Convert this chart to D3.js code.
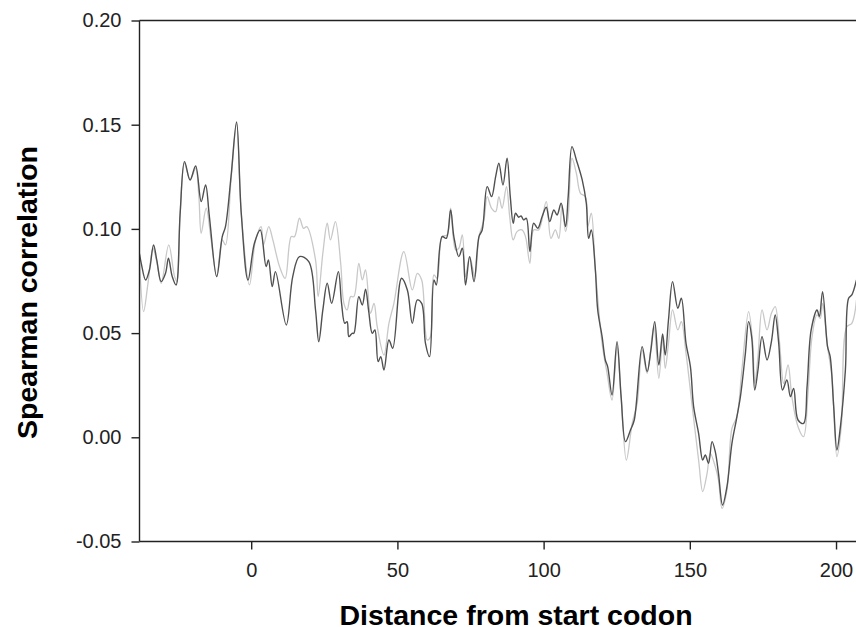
<!DOCTYPE html>
<html>
<head>
<meta charset="utf-8">
<script src="https://cdn.jsdelivr.net/npm/d3@7"></script>
<style>
  html, body { margin: 0; padding: 0; background: #fff; }
  svg { display: block; }
  text { font-family: "Liberation Sans", Arial, sans-serif; }
</style>
</head>
<body>
<svg id="chart" width="856" height="627"></svg>
<script>
// ---- data ----
const xTicks = [0, 50, 100, 150, 200];
const yTicks = [-0.05, 0.00, 0.05, 0.10, 0.15, 0.20];
const xTitle = "Distance from start codon";
const yTitle = "Spearman correlation";

const darkPos = [-38.2,-37.6,-36.1,-34.8,-33.4,-32.3,-30.8,-29.3,-28.3,-27.0,-25.7,-24.3,-22.8,-20.9,-19.0,-17.1,-15.6,-14.3,-11.8,-9.9,-8.8,-6.9,-5.0,-3.4,-1.1,1.1,3.1,5.1,5.9,7.2,8.3,12.0,14.2,16.5,19.7,22.0,23.1,24.5,26.0,27.5,29.8,30.9,32.0,32.8,33.4,34.5,35.1,36.8,38.0,39.1,40.2,41.4,42.3,43.4,44.3,45.4,47.1,48.4,51.4,53.4,55.1,56.8,58.3,59.6,61.0,62.5,63.3,65.3,66.7,68.2,69.3,71.0,72.2,73.3,74.7,76.2,77.9,79.0,80.7,82.2,83.6,84.7,86.1,87.5,88.6,89.6,90.4,91.5,92.3,93.2,94.1,95.3,96.6,98.0,99.5,100.9,102.1,103.5,104.6,106.0,107.5,108.4,109.7,111.2,113.2,114.6,115.4,116.3,117.7,118.5,120.0,121.1,121.9,123.4,125.1,126.5,128.0,129.7,131.0,133.7,135.4,136.7,138.0,139.4,140.7,141.6,142.7,144.1,145.9,147.1,148.7,150.2,151.3,153.0,154.4,155.3,156.4,157.6,158.7,159.8,161.2,162.7,164.4,165.9,167.3,169.0,170.1,171.2,172.2,173.3,174.7,176.4,177.9,179.2,180.4,181.7,183.2,184.4,185.5,187.0,188.9,190.1,191.5,193.5,194.3,195.4,197.1,198.0,199.2,200.3,201.5,203.2,204.3,205.4,207.0];
const darkVal = [0.088,0.0835,0.0755,0.0803,0.0923,0.0851,0.0747,0.0787,0.0859,0.0771,0.0731,0.1075,0.1323,0.1235,0.1302,0.1131,0.1211,0.1059,0.0771,0.0963,0.1011,0.1251,0.1513,0.1075,0.0755,0.0931,0.0995,0.0819,0.0851,0.0723,0.0795,0.0539,0.0771,0.0867,0.0843,0.0611,0.0459,0.0611,0.0739,0.0643,0.0795,0.0643,0.0547,0.0555,0.0483,0.0499,0.0499,0.0675,0.0635,0.0711,0.0603,0.0499,0.0515,0.0363,0.0387,0.0323,0.0467,0.0427,0.0763,0.0707,0.0547,0.0659,0.0643,0.0451,0.0387,0.0755,0.0731,0.0963,0.0955,0.1091,0.0963,0.0867,0.0907,0.0731,0.0867,0.0747,0.0963,0.0995,0.1203,0.1155,0.1251,0.1315,0.1211,0.1339,0.1155,0.1027,0.1075,0.1056,0.1062,0.1043,0.1051,0.0891,0.1027,0.1003,0.1059,0.1104,0.1035,0.1091,0.1067,0.1123,0.1011,0.1155,0.1395,0.1331,0.1235,0.1123,0.0955,0.0995,0.0803,0.0611,0.0483,0.0371,0.0339,0.0203,0.0459,0.0195,-0.0021,0.0035,0.0083,0.0435,0.0315,0.0419,0.0555,0.0347,0.0496,0.0395,0.0563,0.0747,0.0619,0.0667,0.0451,0.0339,0.0147,0.0019,-0.0109,-0.0085,-0.0125,-0.0021,-0.0069,-0.0173,-0.0325,-0.0237,-0.0029,0.0083,0.0195,0.0403,0.0555,0.0475,0.0227,0.0323,0.0483,0.0371,0.0459,0.0587,0.0451,0.0227,0.0275,0.0195,0.0235,0.0083,0.0067,0.0243,0.0515,0.0611,0.0579,0.0699,0.0435,0.0387,0.0147,-0.0061,0.0051,0.0323,0.0667,0.0683,0.0755];

const lightPos = [-38.2,-36.8,-35.3,-33.6,-32.3,-30.8,-28.2,-26.2,-25.4,-24.3,-22.8,-20.9,-19.0,-17.9,-17.1,-15.4,-13.7,-11.8,-9.9,-8.8,-6.9,-5.0,-3.4,-0.6,1.5,3.4,4.2,6.0,7.4,9.7,11.6,13.7,14.8,16.5,17.9,19.0,22.0,22.9,24.5,26.0,27.1,28.8,30.6,31.7,32.8,34.0,35.1,36.8,38.0,39.1,40.8,42.0,43.1,45.4,47.1,48.8,52.2,55.1,56.8,58.3,60.2,61.3,62.5,63.6,65.3,67.0,68.2,69.9,71.0,72.2,73.3,74.7,76.5,77.9,79.6,80.7,82.2,83.6,84.7,85.8,87.3,88.4,89.6,90.9,92.6,93.8,95.3,96.6,98.3,100.9,102.5,104.0,105.2,106.3,107.5,108.4,109.7,111.2,112.6,114.3,115.1,116.3,117.7,120.0,121.7,123.4,125.1,126.5,128.3,130.3,132.0,133.7,135.4,137.7,139.4,140.7,141.6,142.7,144.1,145.9,147.1,148.7,150.7,153.0,154.4,155.9,157.0,158.7,159.8,161.0,162.7,164.4,166.1,167.8,170.1,171.5,172.2,173.3,174.7,176.4,177.9,179.2,180.6,182.1,183.6,184.9,187.0,188.9,190.4,191.8,193.5,194.6,195.4,197.1,198.6,200.3,201.8,203.7,205.4,207.0];
const lightVal = [0.085,0.0603,0.0739,0.0907,0.0843,0.0739,0.0923,0.0771,0.0747,0.1075,0.1315,0.1235,0.129,0.1155,0.0979,0.1099,0.0947,0.0771,0.0947,0.0923,0.1235,0.1505,0.1075,0.0731,0.0947,0.1011,0.0923,0.1011,0.0947,0.0819,0.0763,0.0963,0.0963,0.1051,0.1003,0.1011,0.0851,0.0675,0.0883,0.1027,0.0947,0.1035,0.0835,0.0643,0.0611,0.0675,0.0675,0.0835,0.0755,0.0803,0.0595,0.0643,0.0531,0.0395,0.0547,0.0643,0.0891,0.0707,0.0787,0.0755,0.0467,0.0483,0.0779,0.0763,0.0963,0.0971,0.1099,0.0899,0.0907,0.0971,0.0771,0.0867,0.0771,0.0963,0.1043,0.1155,0.1099,0.1083,0.1155,0.1099,0.1203,0.1059,0.0947,0.0987,0.0995,0.0963,0.0835,0.0995,0.0995,0.1131,0.0955,0.0995,0.0955,0.1115,0.0987,0.1059,0.1339,0.1267,0.1171,0.1155,0.1011,0.1075,0.0803,0.0451,0.0307,0.0179,0.0435,0.0195,-0.0109,0.0067,0.0163,0.0419,0.0307,0.0531,0.0283,0.0475,0.0331,0.0451,0.0611,0.0515,0.0555,0.0403,0.0163,-0.0109,-0.0261,-0.0173,-0.0077,-0.0141,-0.0205,-0.0341,-0.0253,0.0043,0.0099,0.0323,0.0603,0.0451,0.0259,0.0387,0.0611,0.0515,0.0595,0.0627,0.0467,0.0259,0.0347,0.0195,0.0051,0.0003,0.0211,0.0483,0.0587,0.0571,0.0643,0.0435,0.0291,-0.0093,0.0051,0.0531,0.0547,0.0659];

(function () {
// ---- layout ----
const svg = d3.select("#chart");
const pL = 139.5, pR = 856.5, pT = 20.5, pB = 541.5;

const x = d3.scaleLinear().domain([-38.2, 207.0]).range([pL, pR]);
const y = d3.scaleLinear().domain([-0.05, 0.20]).range([pB, pT]);

svg.append("defs").append("clipPath").attr("id", "clip")
  .append("rect").attr("x", pL).attr("y", pT).attr("width", pR - pL).attr("height", pB - pT);

const line = d3.line()
  .x(d => x(d[0])).y(d => y(d[1]))
  .curve(d3.curveCatmullRom.alpha(0.5));

const lightData = d3.zip(lightPos, lightVal);
const darkData = d3.zip(darkPos, darkVal);

const g = svg.append("g").attr("clip-path", "url(#clip)");
g.append("path").datum(lightData).attr("d", line)
  .attr("fill", "none").attr("stroke", "#c8c8c8").attr("stroke-width", 1.3)
  .attr("stroke-linejoin", "round");
g.append("path").datum(darkData).attr("d", line)
  .attr("fill", "none").attr("stroke", "#505050").attr("stroke-width", 1.4)
  .attr("stroke-linejoin", "round");

// frame top line
svg.append("line").attr("x1", pL).attr("x2", pR).attr("y1", pT).attr("y2", pT)
  .attr("stroke", "#222").attr("stroke-width", 1.4);

const yFmt = d => d3.format(".2f")(d).replace("\u2212", "-");

// axes
const xAxis = svg.append("g").attr("transform", `translate(0,${pB})`)
  .call(d3.axisBottom(x).tickValues(xTicks).tickSize(8).tickPadding(13).tickSizeOuter(0).tickFormat(d3.format("d")));
const yAxis = svg.append("g").attr("transform", `translate(${pL},0)`)
  .call(d3.axisLeft(y).tickValues(yTicks).tickSize(8).tickPadding(10).tickSizeOuter(0).tickFormat(yFmt));

[xAxis, yAxis].forEach(a => {
  a.select(".domain").attr("stroke", "#222").attr("stroke-width", 1.4);
  a.selectAll(".tick line").attr("stroke", "#222").attr("stroke-width", 1.4);
  a.selectAll(".tick text").attr("fill", "#222")
    .style("font-family", "'Liberation Sans', Arial, sans-serif").style("font-size", "20px");
});
xAxis.select(".domain").attr("d", `M${pL},0H${pR}`);
yAxis.select(".domain").attr("d", `M0,${pB}V${pT}`);

// titles
svg.append("text").attr("x", 516).attr("y", 624.5).attr("text-anchor", "middle")
  .attr("font-size", 28.5).attr("font-weight", "bold").attr("fill", "#000").text(xTitle);
svg.append("text").attr("transform", "translate(37,292.5) rotate(-90)").attr("text-anchor", "middle")
  .attr("font-size", 28.5).attr("font-weight", "bold").attr("fill", "#000").text(yTitle);
})();
</script>
</body>
</html>
